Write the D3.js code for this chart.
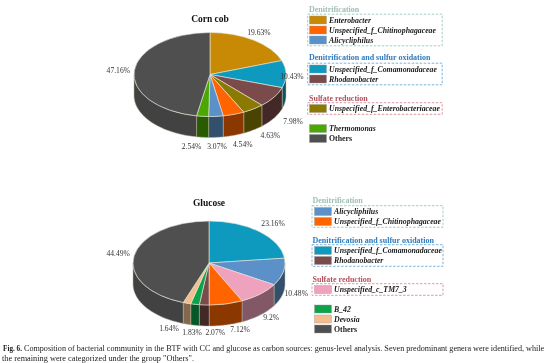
<!DOCTYPE html>
<html>
<head>
<meta charset="utf-8">
<script src="https://cdn.jsdelivr.net/npm/d3@7"></script>
<style>
  html, body { margin: 0; padding: 0; background: #fff; }
  /* the reference is a soft, low resolution scan */
  svg { display: block; filter: blur(0.35px); }
  text { font-family: "Liberation Serif", serif; }
</style>
</head>
<body>
<div id="chart"></div>
<script>
//////////
// DATA //
//////////

var cornGenera = ["Enterobacter", "Unspecified_f_Comamonadaceae", "Rhodanobacter", "Unspecified_f_Enterobacteriaceae",
  "Unspecified_f_Chitinophagaceae", "Alicycliphilus", "Thermomonas", "Others"];
var cornValues = [19.63, 10.43, 7.98, 4.63, 4.54, 3.07, 2.54, 47.16];
var cornLabels = ["19.63%", "10.43%", "7.98%", "4.63%", "4.54%", "3.07%", "2.54%", "47.16%"];

var glucoseGenera = ["Unspecified_f_Comamonadaceae", "Alicycliphilus", "Unspecified_c_TM7_3",
  "Unspecified_f_Chitinophagaceae", "Rhodanobacter", "B_42", "Devosia", "Others"];
var glucoseValues = [23.16, 10.48, 9.2, 7.12, 2.07, 1.83, 1.64, 44.49];
var glucoseLabels = ["23.16%", "10.48%", "9.2%", "7.12%", "2.07%", "1.83%", "1.64%", "44.49%"];

var functionGroups = ["Denitrification", "Denitrification and sulfur oxidation", "Sulfate reduction"];

var cornLegendGroups = [
  ["Enterobacter", "Unspecified_f_Chitinophagaceae", "Alicycliphilus"],
  ["Unspecified_f_Comamonadaceae", "Rhodanobacter"],
  ["Unspecified_f_Enterobacteriaceae"]
];
var cornLegendRest = ["Thermomonas", "Others"];

var glucoseLegendGroups = [
  ["Alicycliphilus", "Unspecified_f_Chitinophagaceae"],
  ["Unspecified_f_Comamonadaceae", "Rhodanobacter"],
  ["Unspecified_c_TM7_3"]
];
var glucoseLegendRest = ["B_42", "Devosia", "Others"];

var captionLines = [
  "Composition of bacterial community in the BTF with CC and glucose as carbon sources: genus-level analysis. Seven predominant genera were identified, while",
  "the remaining were categorized under the group \"Others\"."
];

////////////
// STYLES //
////////////

var color = d3.scaleOrdinal()
  .domain(["Enterobacter", "Unspecified_f_Comamonadaceae", "Rhodanobacter", "Unspecified_f_Enterobacteriaceae",
    "Unspecified_f_Chitinophagaceae", "Alicycliphilus", "Thermomonas", "Others",
    "Unspecified_c_TM7_3", "B_42", "Devosia"])
  .range(["#c88a04", "#0e99bf", "#7b4a4a", "#8a7a02",
    "#ff6400", "#5b90c8", "#4ba802", "#4f4f4f",
    "#efa2bd", "#0aa34a", "#f3bd8e"]);

var groupColor = d3.scaleOrdinal()
  .domain(functionGroups)
  .range(["#9fc0b4", "#2f7bbd", "#b5505c"]);

var boxColor = d3.scaleOrdinal()
  .domain(functionGroups)
  .range(["#7fb5b5", "#3f95cf", "#cf6f7c"]);

////////////
// LAYOUT //
////////////

var svg = d3.select("#chart").append("svg")
  .attr("width", 554)
  .attr("height", 363)
  .attr("viewBox", "0 0 554 363");

var rx = 76, ry = 42, depth = 21;

// label nudges from the rim point of each slice
var cornNudge = [[5, -8], [6, 2], [19, 24], [17, 26], [9, 30], [1, 30], [-11, 30], [-16, 0]];
var glucoseNudge = [[13.5, -8], [13, 21], [11, 23], [14, 25], [11, 27], [-3, 28], [-18, 25], [-16, -2]];

var arc = d3.arc().innerRadius(0).outerRadius(rx);
var pie = d3.pie().sort(null).value(function (d) { return d.value; });

function rimX(a) { return rx * Math.sin(a); }
function rimY(a) { return -ry * Math.cos(a); }

// visible side wall of one slice, only the front half of the ellipse shows
function wallPath(d) {
  var a0 = Math.max(d.startAngle, Math.PI / 2),
      a1 = Math.min(d.endAngle, Math.PI * 1.5);
  if (a1 <= a0) return null;
  var steps = d3.range(0, 25).map(function (i) { return a0 + (a1 - a0) * i / 24; });
  var top = steps.map(function (a) { return [rimX(a), rimY(a)]; });
  var bottom = steps.slice().reverse().map(function (a) { return [rimX(a), rimY(a) + depth]; });
  return d3.line()(top.concat(bottom)) + "Z";
}

function wallColor(d) {
  if (d.data.name === "Others") return "#424242";
  return d3.color(color(d.data.name)).darker(1.7);
}

function drawPie(title, titleY, cx, cy, genera, values, labels, nudge) {
  var data = genera.map(function (g, i) { return { name: g, value: values[i], label: labels[i] }; });
  var slices = pie(data);

  svg.append("text")
    .attr("x", cx)
    .attr("y", titleY)
    .attr("text-anchor", "middle")
    .style("font-size", "9.5px")
    .style("font-weight", "bold")
    .style("fill", "#111")
    .text(title);

  var g = svg.append("g").attr("transform", "translate(" + cx + "," + cy + ")");

  g.selectAll(".wall")
    .data(slices.filter(wallPath))
    .enter().append("path")
    .attr("class", "wall")
    .attr("d", wallPath)
    .attr("fill", wallColor)
    .attr("stroke", "#b9b49c")
    .attr("stroke-width", 0.5);

  // circle arcs squashed to the ellipse of the pie top
  g.append("g")
    .attr("transform", "scale(1," + (ry / rx) + ")")
    .selectAll(".slice")
    .data(slices)
    .enter().append("path")
    .attr("class", "slice")
    .attr("d", arc)
    .attr("fill", function (d) { return color(d.data.name); })
    .attr("stroke", "#e6e6dc")
    .attr("stroke-width", 0.8);

  g.selectAll(".pct")
    .data(slices)
    .enter().append("text")
    .attr("class", "pct")
    .attr("x", function (d, i) { return rimX((d.startAngle + d.endAngle) / 2) + nudge[i][0]; })
    .attr("y", function (d, i) { return rimY((d.startAngle + d.endAngle) / 2) + nudge[i][1]; })
    .attr("dy", "0.35em")
    .attr("text-anchor", "middle")
    .style("font-size", "7.6px")
    .style("fill", "#333")
    .text(function (d) { return d.data.label; });
}

function legendRow(x, y, name) {
  svg.append("rect")
    .attr("x", x)
    .attr("y", y - 4)
    .attr("width", 17)
    .attr("height", 8)
    .attr("fill", color(name))
    .attr("stroke", "#999")
    .attr("stroke-width", 0.4);

  svg.append("text")
    .attr("x", x + 19.5)
    .attr("y", y)
    .attr("dy", "0.35em")
    .style("font-size", "7.8px")
    .style("font-weight", "bold")
    .style("font-style", name === "Others" ? "normal" : "italic")
    .style("fill", "#1a1a1a")
    .text(name);
}

function drawLegend(swatchX, headerX, boxX, boxW, headerYs, firstRowYs, groups, restYs, rest) {
  groups.forEach(function (rows, k) {
    var f = functionGroups[k];

    svg.append("text")
      .attr("x", headerX)
      .attr("y", headerYs[k])
      .attr("dy", "0.35em")
      .style("font-size", "8px")
      .style("font-weight", "bold")
      .style("fill", groupColor(f))
      .text(f);

    var top = firstRowYs[k] - 5.8,
        h = (rows.length - 1) * 10 + 11.6;

    svg.append("rect")
      .attr("x", boxX)
      .attr("y", top)
      .attr("width", boxW)
      .attr("height", h)
      .attr("fill", "none")
      .attr("stroke", boxColor(f))
      .attr("stroke-width", 0.7)
      .attr("stroke-dasharray", "2.5,1.5");

    rows.forEach(function (name, i) {
      legendRow(swatchX, firstRowYs[k] + i * 10, name);
    });
  });

  rest.forEach(function (name, i) {
    legendRow(swatchX, restYs + i * 10, name);
  });
}

drawPie("Corn cob", 22, 210, 74.5, cornGenera, cornValues, cornLabels, cornNudge);
drawPie("Glucose", 206, 209, 263, glucoseGenera, glucoseValues, glucoseLabels, glucoseNudge);

drawLegend(309.5, 309, 307.7, 134.5, [9, 57.5, 98], [20, 69, 108.5], cornLegendGroups, 128.5, cornLegendRest);
drawLegend(314.5, 312.5, 312, 131, [200.5, 240, 279.5], [211.5, 250.5, 289.5], glucoseLegendGroups, 309, glucoseLegendRest);

/////////////
// CAPTION //
/////////////

var caption = svg.append("g").style("fill", "#222");

caption.append("text")
  .attr("x", 3)
  .attr("y", 350.5)
  .style("font-size", "7.2px")
  .style("font-weight", "bold")
  .text("Fig. 6.");

caption.append("text")
  .attr("x", 24)
  .attr("y", 350.5)
  .style("font-size", "8.15px")
  .text(captionLines[0]);

caption.append("text")
  .attr("x", 2)
  .attr("y", 360.5)
  .style("font-size", "8.3px")
  .text(captionLines[1]);
</script>
</body>
</html>
